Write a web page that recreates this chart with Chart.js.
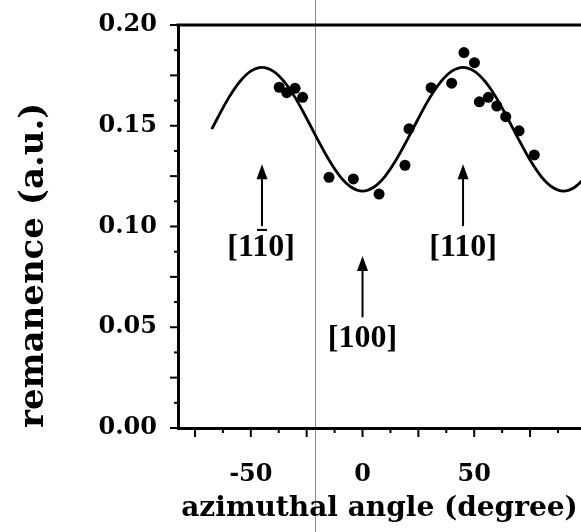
<!DOCTYPE html>
<html>
<head>
<meta charset="utf-8">
<script src="https://cdn.jsdelivr.net/npm/chart.js@4"></script>
<style>
  html, body { margin: 0; padding: 0; background: #fff; }
  #wrap { width: 581px; height: 532px; position: relative; }
</style>
</head>
<body>
<div id="wrap"><canvas id="mainChart"></canvas></div>
<script>
// ─────────────────────────────────────────────
//  remanence vs azimuthal angle
// ─────────────────────────────────────────────

// ── Measured points ───────────────────────────
const angleDeg = [-37.3, -33.9, -30.2, -26.8, -15.0, -4.1, 7.4, 19.0, 20.8, 30.7,
                  39.9, 45.4, 50.1, 52.3, 56.3, 60.1, 64.1, 70.1, 76.9];
const remanence = [0.1691, 0.1664, 0.1686, 0.1641, 0.1244, 0.1236, 0.1161, 0.1304, 0.1485, 0.1689,
                   0.1711, 0.1863, 0.1813, 0.1619, 0.1641, 0.1598, 0.1545, 0.1475, 0.1355];

// ── Fit curve ─────────────────────────────────
const fitAngle = [-67.5, -65, -60, -55, -50, -45, -40, -35, -30, -25, -20, -15, -10, -5, 0,
                  5, 10, 15, 20, 25, 30, 35, 40, 45, 50, 55, 60, 65, 70, 75, 80, 85, 90, 95, 100];
const fitValue = [0.1483, 0.1536, 0.1637, 0.1718, 0.1771, 0.1790, 0.1771, 0.1718, 0.1637, 0.1536,
                  0.1430, 0.1330, 0.1248, 0.1195, 0.1176, 0.1195, 0.1248, 0.1330, 0.1430, 0.1536,
                  0.1637, 0.1718, 0.1771, 0.1790, 0.1771, 0.1718, 0.1637, 0.1536, 0.1430, 0.1330,
                  0.1248, 0.1195, 0.1176, 0.1195, 0.1248];

// ── Direction markers ─────────────────────────
const arrowX     = [-45, 0, 45];
const arrowTip   = [0.1309, 0.0854, 0.1309];
const arrowBase  = [0.1002, 0.0549, 0.1002];
const labelBase  = [0.0854, 0.0404, 0.0854];
const labelParts = [['[1', '1', '0]'], ['[100]', '', ''], ['[110]', '', '']]; // middle part gets overbar

// ── Axes ──────────────────────────────────────
const xMin = -82.6, xMax = 97.8, xStep = 12.5;
const yMin = 0, yMax = 0.2, yStep = 0.0125;
const scanLineX = -21.3; // faint vertical line from the scanned page

const tickFont = { family: 'DejaVu Serif', size: 24, weight: 'bold' };

function isMult(v, m) {
  return Math.abs(v / m - Math.round(v / m)) < 1e-6;
}

// ── Extra drawing: ticks, frame, arrows ───────
const decorations = {
  id: 'decorations',
  afterDraw(c) {
    const ctx = c.ctx;
    const xs = c.scales.x, ys = c.scales.y;
    const area = c.chartArea;
    ctx.save();
    ctx.strokeStyle = '#000';
    ctx.fillStyle = '#000';

    // top frame line
    ctx.lineWidth = 3;
    ctx.beginPath();
    ctx.moveTo(area.left - 1.5, area.top);
    ctx.lineTo(c.width, area.top);
    ctx.stroke();

    // tick marks, outward
    ctx.lineWidth = 2;
    xs.ticks.forEach(t => {
      if (t.value < xMin || t.value > xMax) return;
      const px = xs.getPixelForValue(t.value);
      const len = isMult(t.value, 25) ? 9 : 5;
      ctx.beginPath();
      ctx.moveTo(px, area.bottom);
      ctx.lineTo(px, area.bottom + len);
      ctx.stroke();
    });
    ys.ticks.forEach(t => {
      const py = ys.getPixelForValue(t.value);
      const len = isMult(t.value, 0.025) ? 8 : 4;
      ctx.beginPath();
      ctx.moveTo(area.left, py);
      ctx.lineTo(area.left - len, py);
      ctx.stroke();
    });

    // arrows
    arrowX.forEach((ax, i) => {
      const px = xs.getPixelForValue(ax);
      const tip = ys.getPixelForValue(arrowTip[i]);
      const base = ys.getPixelForValue(arrowBase[i]);
      ctx.lineWidth = 2;
      ctx.beginPath();
      ctx.moveTo(px, base);
      ctx.lineTo(px, tip + 10);
      ctx.stroke();
      ctx.beginPath();
      ctx.moveTo(px, tip);
      ctx.lineTo(px - 5.5, tip + 15);
      ctx.lineTo(px + 5.5, tip + 15);
      ctx.closePath();
      ctx.fill();

      // label with optional overbar on middle part
      const parts = labelParts[i];
      ctx.font = 'bold 32px "Liberation Serif"';
      ctx.textBaseline = 'alphabetic';
      ctx.textAlign = 'left';
      const w0 = ctx.measureText(parts[0]).width;
      const w1 = ctx.measureText(parts[1]).width;
      const w2 = ctx.measureText(parts[2]).width;
      const total = w0 + w1 + w2;
      const by = ys.getPixelForValue(labelBase[i]);
      const lx = px - total / 2;
      ctx.fillText(parts[0] + parts[1] + parts[2], lx, by);
      if (parts[1]) {
        const bx = lx + w0;
        ctx.fillRect(bx + 3, by - 27, w1 - 6, 2);
      }
    });

    // scan line
    const sx = Math.round(xs.getPixelForValue(scanLineX)) + 0.5;
    ctx.strokeStyle = 'rgba(0,0,0,0.45)';
    ctx.lineWidth = 1;
    ctx.beginPath();
    ctx.moveTo(sx, 0);
    ctx.lineTo(sx, c.height);
    ctx.stroke();
    ctx.restore();
  }
};

// ── Build chart ───────────────────────────────
const chart = new Chart(document.getElementById('mainChart'), {
  type: 'scatter',
  data: {
    datasets: [{
      label: 'measured',
      data: angleDeg.map((a, i) => ({ x: a, y: remanence[i] })),
      pointRadius: 5.5,
      pointBackgroundColor: '#000',
      pointBorderWidth: 0,
      showLine: false,
      order: 0
    }, {
      label: 'fit',
      data: fitAngle.map((a, i) => ({ x: a, y: fitValue[i] })),
      showLine: true,
      borderColor: '#000',
      borderWidth: 2.8,
      pointRadius: 0,
      tension: 0.4,
      order: 1
    }]
  },
  options: {
    responsive: true,
    maintainAspectRatio: false,
    animation: false,
    layout: { autoPadding: false, padding: { top: 25, left: 0, right: 0, bottom: 0 } },
    plugins: { legend: { display: false }, tooltip: { enabled: false } },
    scales: {
      x: {
        type: 'linear',
        min: xMin, max: xMax,
        afterFit: s => { s.height = 104; s.paddingLeft = 0; s.paddingRight = 0; },
        grid: { display: false, drawTicks: false },
        border: { display: true, width: 3, color: '#000' },
        ticks: {
          stepSize: xStep,
          includeBounds: false,
          autoSkip: false,
          maxRotation: 0,
          padding: 32,
          color: '#000',
          font: tickFont,
          callback: v => isMult(v, 50) ? String(v) : ''
        },
        title: {
          display: true,
          text: 'azimuthal angle (degree)',
          color: '#000',
          font: { family: 'DejaVu Serif', size: 28, weight: 'bold' },
          padding: { top: 0, bottom: 6 }
        }
      },
      y: {
        type: 'linear',
        min: yMin, max: yMax,
        afterFit: s => { s.width = 178; s.paddingTop = 0; s.paddingBottom = 0; },
        grid: { display: false, drawTicks: false },
        border: { display: true, width: 3, color: '#000' },
        ticks: {
          stepSize: yStep,
          autoSkip: false,
          padding: 21,
          color: '#000',
          font: tickFont,
          callback: v => isMult(v, 0.05) ? v.toFixed(2) : ''
        },
        title: {
          display: true,
          text: 'remanence (a.u.)',
          align: 'start',
          color: '#000',
          font: { family: 'DejaVu Serif', size: 34, weight: 'bold' },
          padding: { top: 14, bottom: 0 }
        }
      }
    }
  },
  plugins: [decorations]
});
</script>
</body>
</html>
